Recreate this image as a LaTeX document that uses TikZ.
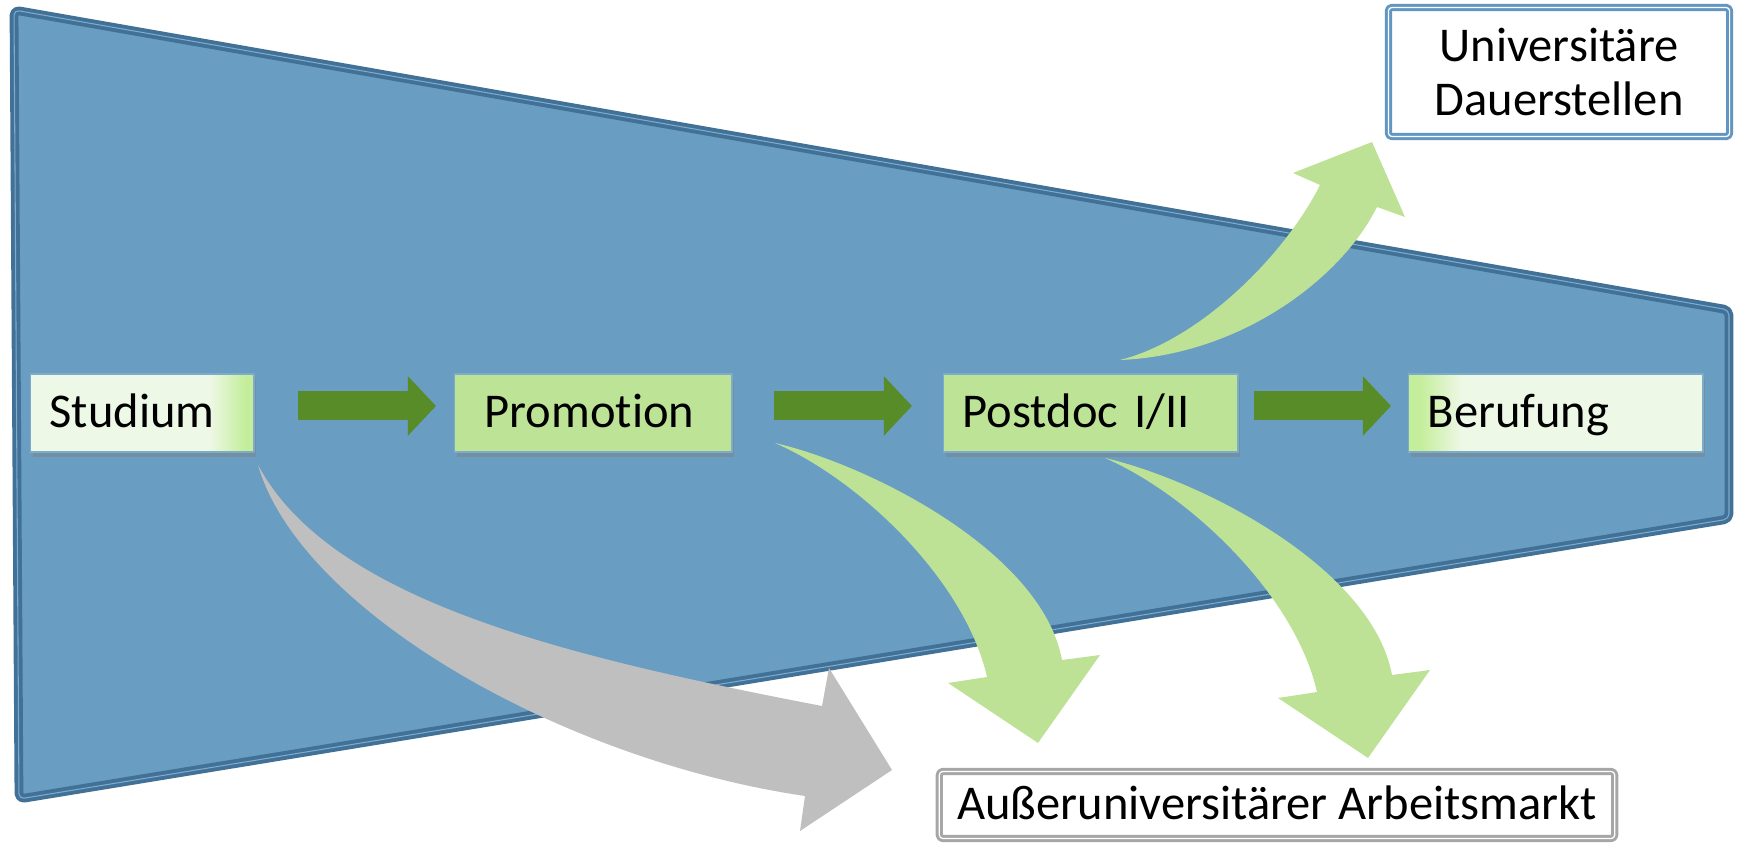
\documentclass[tikz,border=0pt]{standalone}
\usepackage{fontspec}
\setmainfont{Carlito}[Ligatures=NoCommon]
\usetikzlibrary{arrows.meta,shadows}

\definecolor{funnelfill}{RGB}{106,157,194}
\definecolor{funneledge}{RGB}{65,113,150}
\definecolor{funnelline}{RGB}{125,170,205}
\definecolor{stagegreen}{RGB}{189,227,150}
\definecolor{stagelight}{RGB}{238,248,230}
\definecolor{stagebright}{RGB}{196,238,155}
\definecolor{stageedge}{RGB}{125,172,200}
\definecolor{flowgreen}{RGB}{88,140,40}
\definecolor{bendgreen}{RGB}{189,226,150}
\definecolor{bendgrey}{RGB}{191,191,191}
\definecolor{permblue}{RGB}{98,150,194}
\definecolor{exitgrey}{RGB}{166,166,166}

% light box that turns bright green at one end
\pgfdeclarehorizontalshading{fadeeast}{100bp}{color(0bp)=(stagelight); color(65bp)=(stagelight); color(73bp)=(stagebright); color(100bp)=(stagebright)}
\pgfdeclarehorizontalshading{fadewest}{100bp}{color(0bp)=(stagebright); color(27bp)=(stagebright); color(34bp)=(stagelight); color(100bp)=(stagelight)}

\begin{document}
\begin{tikzpicture}[x=0.01cm, y=-0.01cm, line join=round,
    every node/.style={font=\fontsize{13.8pt}{15.5pt}\selectfont},
    funnel/.style={fill=funnelfill, draw=funneledge, line width=1.1pt, double=funnelline, double distance=0.3pt, rounded corners=1.5pt},
    stage/.style={draw=stageedge, line width=0.4pt, fill=stagegreen, anchor=west, minimum height=0.78cm, inner xsep=0.19cm, text width=#1, align=left, text height=10pt, text depth=2pt, drop shadow={opacity=0.45, shadow xshift=0.6pt, shadow yshift=-1.3pt}},
    glow/.style={shade, shading=#1},
    flow/.style={draw=flowgreen, line width=8.25pt, -{Triangle[length=8pt, width=16.5pt]}},
    outcome/.style={draw=#1, line width=0.85pt, double=white, double distance=0.35pt, fill=white, rounded corners=1pt, inner sep=0pt}]
      \useasboundingbox (0,0) rectangle (1739,843);

      % the funnel
      \draw[funnel] (14,10) -- (1729,310) -- (1729,519) -- (19,799) -- cycle;

      % curved arrows out of the pipeline
      \fill[bendgrey] (258,465) .. controls (330,600) and (562,656) .. (822,706) -- (829,668) -- (892,770) -- (800,831) -- (805,796) .. controls (560,760) and (300,610) .. (258,465) -- cycle;
      \foreach \dx/\dy in {0/0, 330/15}
        \fill[bendgreen, shift={(\dx,\dy)}] (775,443) .. controls (870,465) and (1042,552) .. (1062,660) -- (1100,655) -- (1038,743) -- (948,683) -- (987,677) .. controls (965,580) and (860,480) .. (775,443) -- cycle;
      \fill[bendgreen] (1120,360) .. controls (1200,340) and (1285,255) .. (1320,185) -- (1293,173) -- (1372,142) -- (1405,217) -- (1377,207) .. controls (1341,279) and (1240,355) .. (1120,360) -- cycle;

      % stages
      \node[stage=1.85cm, glow=fadeeast] (stud) at (30,413) {Studium};
      \node[stage=2.17cm, inner xsep=0.3cm] (prom) at (454,413) {Promotion};
      \node[stage=2.56cm] (post) at (943,413) {Postdoc I/II};
      \node[stage=2.56cm, glow=fadewest] (beru) at (1408,413) {Berufung};

      \draw[flow, shorten <=0.43cm, shorten >=0.18cm] ([yshift=2pt]stud.east) -- ([yshift=2pt]prom.west);
      \draw[flow, shorten <=0.41cm, shorten >=0.31cm] ([yshift=2pt]prom.east) -- ([yshift=2pt]post.west);
      \draw[flow, shorten <=0.15cm, shorten >=0.17cm] ([yshift=2pt]post.east) -- ([yshift=2pt]beru.west);

      % where people end up
      \node[outcome=permblue, minimum width=3.41cm, minimum height=1.29cm, align=center] (perm) at (1559,72) {Universitäre\\Dauerstellen};
      \node[outcome=exitgrey, minimum width=6.75cm, minimum height=0.67cm, text height=10pt, text depth=2pt] (exit) at (1277,805) {Außeruniversitärer Arbeitsmarkt};
    \end{tikzpicture}
\end{document}
